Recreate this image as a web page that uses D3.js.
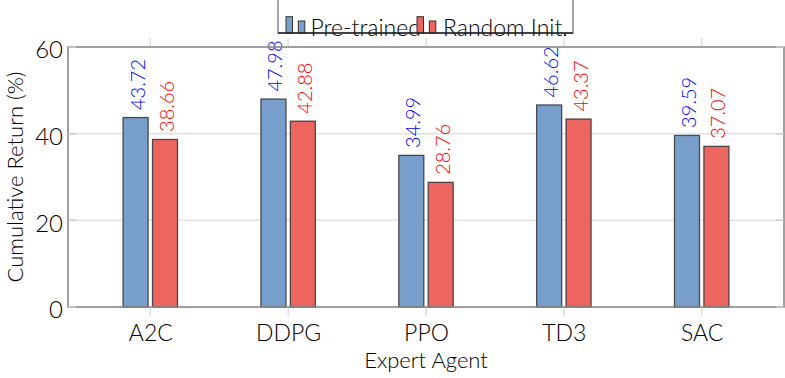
<!DOCTYPE html>
<html><head><meta charset="utf-8">
<script src="https://cdn.jsdelivr.net/npm/d3@7"></script>
<style>body{margin:0;background:#fff}svg{display:block}text{font-family:Lato,"Open Sans",sans-serif;font-weight:300}</style>
</head><body><svg id="c" width="785" height="378"></svg>
<script>
const categories = ["A2C","DDPG","PPO","TD3","SAC"];
const pretrained = [43.72,47.98,34.99,46.62,39.59];
const randomInit = [38.66,42.88,28.76,43.37,37.07];
const seriesNames = ["Pre-trained","Random Init."];
const yTicks = [0,20,40,60];

const svg = d3.select("#c");
const L=68,R=784,T=47,B=307;
const x = d3.scalePoint().domain(categories).range([L,R]).padding(0.597);
const y = d3.scaleLinear().domain([0,60]).range([B,T]);
const colors = ["#789fcb","#ec665f"];
const labCol = ["#0000ff","#ff0000"];
const bw = 25, off = 14.7;

// grid
svg.append("g").selectAll("line").data([20,40]).join("line")
  .attr("x1",L).attr("x2",R).attr("y1",d=>y(d)).attr("y2",d=>y(d))
  .attr("stroke","#e2e2e2").attr("stroke-width",1.5);

// bars
const series=[pretrained,randomInit];
series.forEach((vals,si)=>{
  const dx = si===0?-off:off;
  svg.append("g").selectAll("rect").data(categories).join("rect")
    .attr("x",(c)=>x(c)+dx-bw/2).attr("width",bw)
    .attr("y",(c,i)=>y(vals[i])).attr("height",(c,i)=>B-y(vals[i]))
    .attr("fill",colors[si]).attr("stroke","#333").attr("stroke-opacity",0.85).attr("stroke-width",1.3);
  svg.append("g").selectAll("text").data(categories).join("text")
    .attr("transform",(c,i)=>`translate(${x(c)+dx+9},${y(vals[i])-7.5}) rotate(-90)`)
    .attr("fill",labCol[si]).attr("font-size",20).text((c,i)=>vals[i].toFixed(2));
});

// frame
svg.append("rect").attr("x",L).attr("y",T).attr("width",R-L).attr("height",B-T)
  .attr("fill","none").attr("stroke","#888").attr("stroke-width",1.6);

// x ticks top and bottom (outward)
const xt=svg.append("g");
categories.forEach(c=>{
  xt.append("line").attr("x1",x(c)).attr("x2",x(c)).attr("y1",B+1).attr("y2",B+9).attr("stroke","#ddd").attr("stroke-width",1.5);
  xt.append("line").attr("x1",x(c)).attr("x2",x(c)).attr("y1",T-1).attr("y2",T-9).attr("stroke","#ddd").attr("stroke-width",1.5);
});
// y ticks inward
yTicks.forEach(v=>{
  svg.append("line").attr("x1",L).attr("x2",L+8).attr("y1",y(v)).attr("y2",y(v)).attr("stroke","#ccc").attr("stroke-width",1.5);
  svg.append("line").attr("x1",R-8).attr("x2",R).attr("y1",y(v)).attr("y2",y(v)).attr("stroke","#ccc").attr("stroke-width",1.5);
});

// axes labels
const xa = d3.axisBottom(x).tickSize(0).tickPadding(0);
const gx = svg.append("g").attr("transform",`translate(0,${B})`).call(xa);
gx.select(".domain").remove();
gx.selectAll("text").attr("font-size",23).attr("fill","#000").attr("font-family","Lato").attr("dy",null).attr("y",34);

const ya = d3.axisLeft(y).tickValues(yTicks).tickSize(0).tickPadding(5);
const gy = svg.append("g").attr("transform",`translate(${L},0)`).call(ya);
gy.select(".domain").remove();
gy.selectAll("text").attr("font-size",24).attr("fill","#000").attr("font-family","Lato").attr("dy","0.45em");

svg.append("text").attr("x",(L+R)/2).attr("y",368).attr("text-anchor","middle").attr("font-size",22).text("Expert Agent");
svg.append("text").attr("transform",`translate(23,${(T+B)/2}) rotate(-90)`).attr("text-anchor","middle").attr("font-size",22).text("Cumulative Return (%)");

// legend
const lg = svg.append("g");
lg.append("rect").attr("x",278).attr("y",-2).attr("width",295).attr("height",35).attr("fill","#fff").attr("stroke","#777").attr("stroke-width",1.3);
lg.append("line").attr("x1",278).attr("x2",573).attr("y1",33).attr("y2",33).attr("stroke","#222").attr("stroke-width",1.5);
const legX=[286,417], legTX=[310.5,443];
seriesNames.forEach((n,i)=>{
  lg.append("rect").attr("x",legX[i]).attr("y",16.7).attr("width",6.5).attr("height",16.3).attr("fill",colors[i]).attr("stroke","#333").attr("stroke-width",1);
  lg.append("rect").attr("x",legX[i]+12.3).attr("y",21).attr("width",6.5).attr("height",12).attr("fill",colors[i]).attr("stroke","#333").attr("stroke-width",1);
  lg.append("text").attr("x",legTX[i]).attr("y",36).attr("font-size",23).text(n);
});
lg.selectAll("line").raise();
</script></body></html>
